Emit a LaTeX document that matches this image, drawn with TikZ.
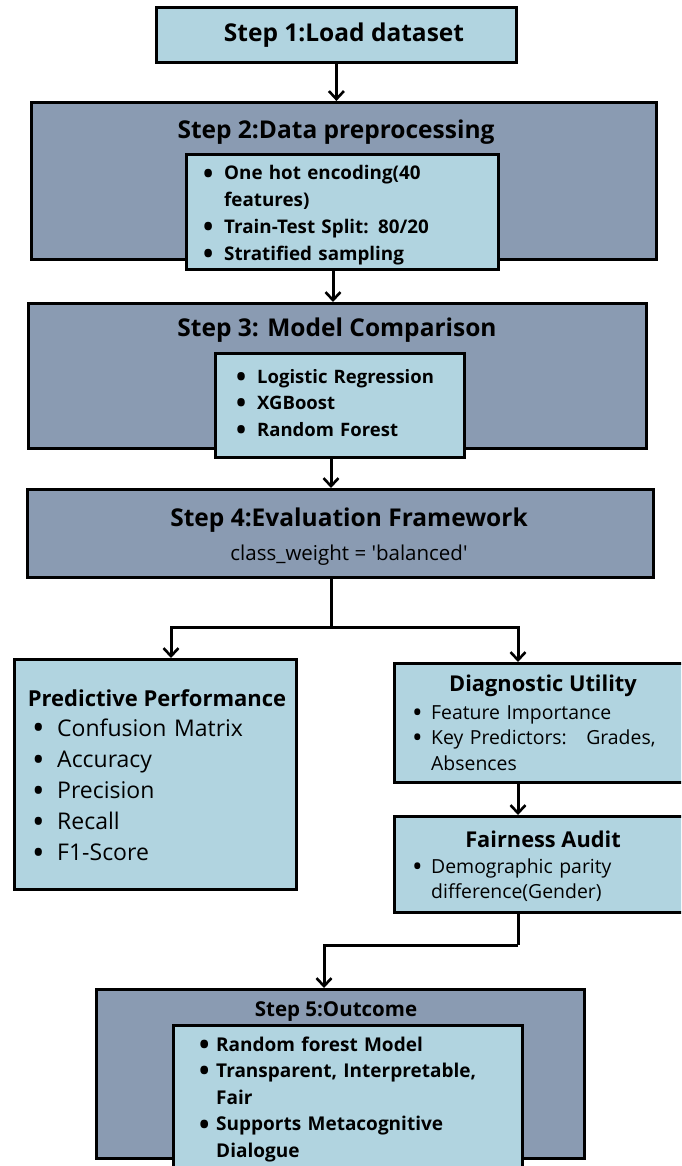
\documentclass[tikz,border=0pt]{standalone}
\usepackage{fontspec}
\setmainfont{Open Sans}
\newfontfamily\plainfont[Ligatures=TeXOff]{Open Sans}
\usetikzlibrary{arrows.meta}
\definecolor{lightb}{HTML}{B1D4E0}
\definecolor{slate}{HTML}{8A9BB2}
\newcommand\bi[1]{\makebox[#1][l]{\raisebox{-0.32ex}{\scalebox{1.45}{\textbullet}}}}
\tikzset{
  box/.style={draw=black, line width=2.8pt, rectangle, inner sep=0pt, anchor=north west},
  lb/.style={box, fill=lightb},
  db/.style={box, fill=slate},
  arr/.style={line width=3pt, -{Straight Barb[length=8pt,width=15pt,line width=2.6pt]}},
  ln/.style={line width=3pt},
  ttl/.style={font=\fontsize{24.5}{28}\selectfont\bfseries, inner sep=0pt},
  sub/.style={font=\fontsize{22}{26}\selectfont\bfseries, inner sep=0pt},
  lst/.style={anchor=base west, inner sep=0pt, align=left, text width=#1},
}
\begin{document}
\begin{tikzpicture}[x=1pt,y=-1pt]
\fill[white] (0,0) rectangle (681,1166);
\useasboundingbox (0,0) rectangle (681,1166);
\clip (0,0) rectangle (681,1166);

% Step 1
\node[lb, minimum width=360, minimum height=55] (s1) at (155,6) {};
\node[ttl] (t1) at (344,35) {Step 1:Load dataset};

% Step 2
\node[db, minimum width=625, minimum height=157] (s2) at (30,101) {};
\node[ttl] (t2) at (336,132) {Step 2:Data preprocessing};
\node[lb, minimum width=312, minimum height=115] (s2in) at (185,153) {};
\node[lst=300pt, font=\fontsize{18.8}{26.7}\selectfont\bfseries] (l2) at (203,180)
  {\bi{21pt}One hot encoding(40\\\hspace*{21pt}features)\\\bi{21pt}Train-Test Split: 80/20\\\bi{21pt}Stratified sampling};

% Step 3
\node[db, minimum width=618, minimum height=145] (s3) at (27,302) {};
\node[ttl] (t3) at (337,330) {Step 3: Model Comparison};
\node[lb, minimum width=249, minimum height=104] (s3in) at (214,352) {};
\node[lst=240pt, font=\fontsize{18.5}{26.5}\selectfont\bfseries] (l3) at (236,383)
  {\bi{21pt}Logistic Regression\\\bi{21pt}XGBoost\\\bi{21pt}Random Forest};

% Step 4
\node[db, minimum width=626, minimum height=88] (s4) at (26,488) {};
\node[ttl] (t4) at (349,520) {Step 4:Evaluation Framework};
\node[font=\fontsize{20.5}{24}\selectfont\plainfont, inner sep=0pt] (t4b) at (349,555) {class\_weight = 'balanced'};

% Predictive performance
\node[lb, minimum width=282, minimum height=230] (pp) at (13,658) {};
\node[sub] (tpp) at (157,698) {Predictive Performance};
\node[lst=260pt, font=\fontsize{23}{31.2}\selectfont] (lpp) at (32,736)
  {\bi{25pt}Confusion Matrix\\\bi{25pt}Accuracy\\\bi{25pt}Precision\\\bi{25pt}Recall\\\bi{25pt}F1-Score};

% Diagnostic utility
\node[lb, minimum width=292, minimum height=119] (du) at (393,662) {};
\node[sub, font=\fontsize{21.8}{26}\selectfont\bfseries] (tdu) at (543,686) {Diagnostic Utility};
\node[lst=270pt, font=\fontsize{19.4}{25.5}\selectfont] (ldu) at (412,719)
  {\bi{19pt}Feature Importance\\\bi{19pt}Key Predictors:\quad Grades,\\\hspace*{19pt}Absences};

% Fairness audit
\node[lb, minimum width=292, minimum height=96] (fa) at (393,815) {};
\node[sub, font=\fontsize{21.8}{26}\selectfont\bfseries] (tfa) at (543,839) {Fairness Audit};
\node[lst=270pt, font=\fontsize{19.4}{25.5}\selectfont] (lfa) at (412,873)
  {\bi{19pt}Demographic parity\\\hspace*{19pt}difference(Gender)};

% Step 5
\node[db, minimum width=488, minimum height=169] (s5) at (95,988) {};
\node[font=\fontsize{20.5}{24}\selectfont\bfseries, inner sep=0pt] (t5) at (336,1012) {Step 5:Outcome};
\node[lb, minimum width=349, minimum height=160] (s5in) at (172,1024) {};
\node[lst=340pt, font=\fontsize{19}{26.6}\selectfont\bfseries] (l5) at (199,1051)
  {\bi{17pt}Random forest Model\\\bi{17pt}Transparent, Interpretable,\\\hspace*{17pt}Fair\\\bi{17pt}Supports Metacognitive\\\hspace*{17pt}Dialogue};

% Connectors
\coordinate (c2) at (333,0);
\coordinate (c3) at (331,0);
\coordinate (cl) at (171,0);
\coordinate (cr) at (518,0);
\coordinate (c5) at (324,0);
\coordinate (j4) at (331,627);
\coordinate (j5) at (518,945);
\draw[arr] (s1.south) -- (s1.south |- s2.north);
\draw[arr] (s2in.south -| c2) -- (s3.north -| c2);
\draw[arr] (s3in.south -| c3) -- (s4.north -| c3);
\draw[ln] (s4.south -| c3) -- (j4);
\draw[arr] (j4) -| (pp.north -| cl);
\draw[arr] (j4) -| (du.north -| cr);
\draw[arr] (du.south -| cr) -- (fa.north -| cr);
\draw[ln] (fa.south -| cr) -- (j5);
\draw[arr] (j5) -| (s5.north -| c5);
\end{tikzpicture}
\end{document}
